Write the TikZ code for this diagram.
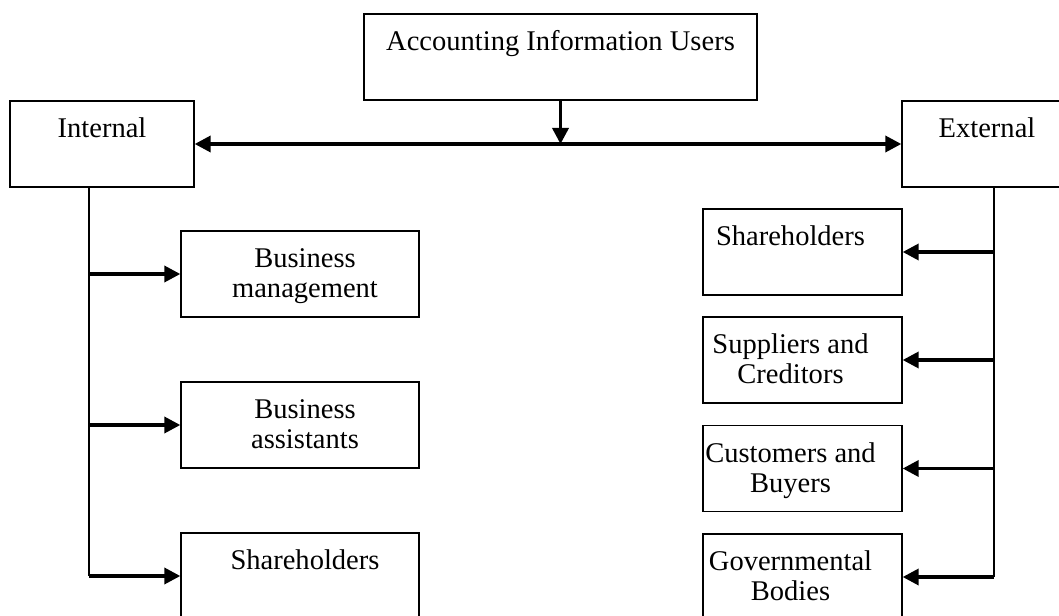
\documentclass[tikz,border=0pt]{standalone}
\usepackage{fontspec}
\setmainfont{Liberation Serif}
\usetikzlibrary{arrows.meta}
\newcommand{\boxstrut}{\rule{0pt}{20pt}}
\tikzset{
	plain box/.style={draw,line width=1pt,inner sep=0pt,minimum height=64.5pt},
	top text/.style={label={[anchor=north,yshift=-7.75pt,align=center,inner sep=0pt,
		font=\fontsize{21.4}{22.5}\selectfont]north:\boxstrut#1}},
	thick arrow/.style={->,line width=2.6pt},
	spine/.style={line width=1pt}
}

\begin{document}
\begin{tikzpicture}[x=0.75pt,y=-0.75pt,>={Triangle[length=12pt,width=12pt]}]
	\useasboundingbox (0,0) rectangle (1059,616);
	\clip (0,0) rectangle (1059,616);
	\node [plain box,minimum width=294.75pt,top text={Accounting Information Users}] (users) at (560.5,57) {};
	\node [plain box,minimum width=138pt,top text=Internal] (int) at (102,144) {};
	\node [plain box,minimum width=127.5pt,top text=External] (ext) at (987,144) {};
	% internal users
	\begin{scope}[every label/.append style={xshift=3.75pt}]
	\node [plain box,minimum width=178.5pt,top text={Business\\management}] (int1) at (300,274) {};
	\node [plain box,minimum width=178.5pt,top text={Business\\assistants}] (int2) at (300,425) {};
	\node [plain box,minimum width=178.5pt,top text=Shareholders] (int3) at (300,576) {};
	\end{scope}
	% external users
	\begin{scope}[every label/.append style={xshift=-9pt}]
	\node [plain box,minimum width=149.25pt,top text=Shareholders] (ext1) at (802.5,252) {};
	\node [plain box,minimum width=149.25pt,top text={Suppliers and\\Creditors}] (ext2) at (802.5,360) {};
	\node [plain box,minimum width=149.25pt,top text={Customers and\\Buyers}] (ext3) at (802.5,468.5) {};
	\node [plain box,minimum width=149.25pt,top text={Governmental\\Bodies}] (ext4) at (802.5,577) {};
	\end{scope}

	\draw [thick arrow,<->] (int.east) -- (ext.west);
	\draw [thick arrow] (users.south) -- (users.south |- int.east);

	\coordinate (intspine) at ([xshift=-9.75pt]int.south);
	\coordinate (extspine) at ([xshift=5.25pt]ext.south);
	\draw [spine] (intspine) -- (intspine |- int3.west);
	\draw [spine] (extspine) -- (extspine |- ext4.east);
	\foreach \n in {int1,int2,int3}
		\draw [thick arrow] (intspine |- \n.west) -- (\n.west);
	\foreach \n in {ext1,ext2,ext3,ext4}
		\draw [thick arrow] (extspine |- \n.east) -- (\n.east);
\end{tikzpicture}
\end{document}
